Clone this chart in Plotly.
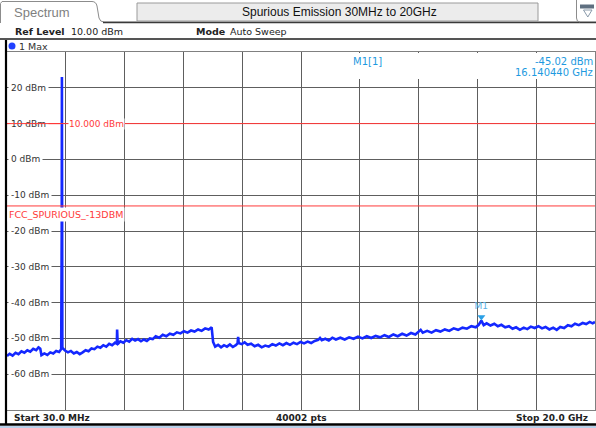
import plotly.graph_objects as go

# ---------------- data ----------------
freq_ghz = [
    0.03, 0.12, 0.22, 0.32, 0.42, 0.52, 0.62, 0.72, 0.82, 0.92, 1.02, 1.1, 1.16, 1.2, 1.3, 1.4, 1.5, 1.6, 1.7, 1.8, 1.87,
    1.88, 1.888, 1.895, 1.902, 1.91,
    2.0, 2.1, 2.2, 2.3, 2.4, 2.5, 2.6, 2.7, 2.8, 2.9, 3.0, 3.1, 3.2, 3.3, 3.4, 3.5, 3.6, 3.7, 3.76,
    3.77, 3.79, 3.88, 3.98, 4.08, 4.18, 4.28, 4.38, 4.48, 4.58, 4.68, 4.78, 4.88, 4.98,
    5.08, 5.2, 5.32, 5.44, 5.56, 5.68, 5.8, 5.92, 6.04, 6.16, 6.28, 6.4, 6.52, 6.64, 6.76, 6.88, 6.98,
    7.03, 7.1, 7.2, 7.3, 7.4, 7.5, 7.6, 7.7, 7.8, 7.86, 7.88, 7.9,
    8.0, 8.1, 8.2, 8.32, 8.44, 8.56, 8.68, 8.8, 8.92, 9.04, 9.16, 9.28, 9.4, 9.52, 9.64, 9.76, 9.88,
    10.0, 10.12, 10.24, 10.36, 10.48, 10.6, 10.66, 10.72, 10.84, 10.96, 11.08, 11.2,
    11.35, 11.5, 11.65, 11.8, 11.95, 12.1, 12.25, 12.4, 12.55, 12.7, 12.85, 13.0, 13.15, 13.3, 13.45, 13.6, 13.75, 13.9,
    14.02, 14.08, 14.15, 14.3, 14.45, 14.6, 14.75, 14.9, 15.05, 15.2, 15.35, 15.5, 15.65, 15.8, 15.95, 16.05,
    16.14, 16.22, 16.32, 16.45, 16.58, 16.7, 16.82, 16.95, 17.08, 17.2, 17.32, 17.45, 17.58, 17.7, 17.82, 17.95,
    18.08, 18.2, 18.32, 18.45, 18.58, 18.7, 18.82, 18.95, 19.08, 19.2, 19.32, 19.45, 19.58, 19.7, 19.82, 19.92, 20.0,
]
level_dbm = [
    -54.9, -54.3, -54.8, -54.0, -54.4, -53.6, -54.0, -53.3, -53.7, -52.9, -53.3, -52.5, -52.9, -54.7, -54.2, -54.6, -53.9, -54.2, -53.5, -53.8, -53.0,
    -40.0, -21.0, 23.0, -30.0, -52.6,
    -53.4, -53.9, -53.5, -54.2, -53.8, -54.4, -53.9, -53.3, -53.6, -52.8, -53.0, -52.3, -52.6, -51.9, -52.3, -51.5, -51.9, -51.2, -51.5,
    -47.5, -51.6, -50.8, -51.2, -50.5, -50.9, -50.1, -50.6, -50.2, -50.8, -50.3, -50.7, -50.0, -50.2,
    -49.4, -49.8, -49.0, -49.4, -48.7, -49.0, -48.3, -48.6, -48.0, -48.4, -47.8, -48.1, -47.5, -47.9, -47.2, -47.5, -46.9,
    -51.0, -52.3, -51.8, -52.5, -51.9, -52.3, -51.7, -52.4, -51.9, -51.4, -49.6, -51.3,
    -51.6, -51.1, -51.8, -51.5, -52.2, -51.8, -52.5, -52.0, -52.3, -51.6, -52.0, -51.4, -51.9, -51.3, -51.8, -51.2, -51.6,
    -51.0, -51.4, -50.9, -51.3, -50.7, -50.4, -49.9, -50.5, -50.1, -50.6, -49.8, -50.3,
    -49.8, -50.3, -49.7, -50.1, -49.5, -50.0, -49.4, -49.9, -49.3, -49.7, -49.1, -49.6, -48.9, -49.4, -48.7, -49.2, -48.5, -48.9,
    -48.2, -47.6, -48.4, -47.9, -48.4, -47.7, -48.1, -47.5, -47.9, -47.2, -47.6, -47.0, -47.3, -46.6, -46.9, -46.2,
    -45.02, -46.3, -45.8, -46.4, -45.9, -46.6, -46.2, -46.9, -46.6, -47.3, -46.9, -47.6, -47.0, -47.4, -46.7, -47.1,
    -46.6, -47.2, -46.8, -47.5, -47.0, -47.6, -46.8, -47.1, -46.3, -46.6, -45.9, -46.3, -45.7, -46.0, -45.4, -45.8, -45.4,
]
assert len(freq_ghz) == len(level_dbm)

f_start_ghz, f_stop_ghz = 0.03, 20.0
y_min_dbm, y_max_dbm = -70, 30
y_tick_vals = [20, 10, 0, -10, -20, -30, -40, -50, -60]
y_tick_labels = ["20 dBm", "10 dBm", "0 dBm", "-10 dBm", "-20 dBm", "-30 dBm", "-40 dBm", "-50 dBm", "-60 dBm"]
ref_line_dbm = 10.0
ref_line_label = "10.000 dBm"
limit_dbm = -13
limit_label = "FCC_SPURIOUS_-13DBM"
marker_name = "M1"
marker_freq_ghz = 16.140440
marker_level_dbm = -45.02
marker_readout = ["M1[1]", "-45.02 dBm", "16.140440 GHz"]
title_text = "Spurious Emission 30MHz to 20GHz"
tab_text = "Spectrum"
info_labels = ["Ref Level", "10.00 dBm", "Mode", "Auto Sweep"]
trace_label = "1 Max"
footer_labels = ["Start 30.0 MHz", "40002 pts", "Stop 20.0 GHz"]

# ---------------- geometry helpers (pixel -> paper) ----------------
W, H = 596, 428
L, R, T, B = 7, 595, 52, 410


def px(x):
    return (x - L) / (R - L)


def py(y):
    return (B - y) / (B - T)


UI = "DejaVu Sans"
ARIAL = "Liberation Sans"
RED = "#ff3a3a"
CYAN = "#1e9ae0"
GRID = "#5e5e5e"

fig = go.Figure()

fig.add_trace(go.Scatter(x=freq_ghz, y=level_dbm, mode="lines",
                         line=dict(color="#1428ff", width=2.6), hoverinfo="skip", showlegend=False))

dbm_per_px = (y_max_dbm - y_min_dbm) / (B - T)
fig.add_trace(go.Scatter(x=[marker_freq_ghz], y=[marker_level_dbm + 3.5 * dbm_per_px],
                         mode="markers+text", marker=dict(symbol="triangle-down", size=7, color="#2aa0e6"),
                         text=[marker_name], textposition="top center",
                         textfont=dict(family=UI, size=9, color="#5ab0e6"),
                         hoverinfo="skip", showlegend=False, cliponaxis=False))

x_grid = [f_start_ghz + i * (f_stop_ghz - f_start_ghz) / 10 for i in range(1, 10)]

shapes = []
annotations = []

# reference lines
shapes.append(dict(type="line", xref="paper", yref="y", x0=0, x1=1, y0=ref_line_dbm, y1=ref_line_dbm,
                   line=dict(color=RED, width=1), layer="above"))
shapes.append(dict(type="line", xref="paper", yref="y", x0=0, x1=1, y0=limit_dbm, y1=limit_dbm,
                   line=dict(color=RED, width=1), layer="above"))

# marker readout box (white, hides grid)
shapes.append(dict(type="rect", xref="paper", yref="paper", x0=px(338), x1=px(594.5), y0=py(79), y1=py(53),
                   line=dict(width=0), fillcolor="white", layer="above"))

# header decor
shapes.append(dict(type="path", xref="paper", yref="paper",
                   path=(f"M {px(0.5)},{py(23)} L {px(0.5)},{py(3.5)} L {px(2)},{py(1.5)} L {px(92)},{py(1.5)} "
                         f"Q {px(96)},{py(1.5)} {px(97)},{py(6)} L {px(99)},{py(18)} Q {px(100)},{py(22)} {px(104)},{py(22)} "
                         f"L {px(596)},{py(22)}"),
                   line=dict(color="#8c8c8c", width=1)))
shapes.append(dict(type="line", xref="paper", yref="paper", x0=px(103), x1=px(596), y0=py(22.5), y1=py(22.5),
                   line=dict(color="#3a3a3a", width=1.5)))
shapes.append(dict(type="rect", xref="paper", yref="paper", x0=px(137), x1=px(538), y0=py(21), y1=py(3),
                   line=dict(color="#9a9a9a", width=1), fillcolor="#ececec"))
shapes.append(dict(type="path", xref="paper", yref="paper",
                   path=f"M {px(576.5)},{py(0)} L {px(576.5)},{py(18)} Q {px(576.5)},{py(22)} {px(580)},{py(22)}",
                   line=dict(color="#8c8c8c", width=1)))
shapes.append(dict(type="rect", xref="paper", yref="paper", x0=px(580), x1=px(594), y0=py(8.5), y1=py(4.5),
                   line=dict(width=0), fillcolor="#5f6f80"))
shapes.append(dict(type="path", xref="paper", yref="paper",
                   path=f"M {px(583.5)},{py(10)} L {px(592)},{py(10)} L {px(587.8)},{py(17)} Z",
                   line=dict(color="#8a9aaa", width=1)))
shapes.append(dict(type="line", xref="paper", yref="paper", x0=px(0), x1=px(596), y0=py(39), y1=py(39),
                   line=dict(color="#555555", width=2)))
shapes.append(dict(type="circle", xref="paper", yref="paper", x0=px(8.5), x1=px(15.5), y0=py(49.5), y1=py(42.5),
                   line=dict(width=0), fillcolor="#2040ff"))

# frame
shapes.append(dict(type="line", xref="paper", yref="paper", x0=px(6), x1=px(6), y0=py(40), y1=py(425),
                   line=dict(color="#000000", width=2.2)))
shapes.append(dict(type="line", xref="paper", yref="paper", x0=px(0), x1=px(596), y0=py(424.5), y1=py(424.5),
                   line=dict(color="#000000", width=2.5)))
shapes.append(dict(type="line", xref="paper", yref="paper", x0=px(0), x1=px(596), y0=py(427), y1=py(427),
                   line=dict(color="#b8d0ea", width=2)))

# y tick labels
for v, t in zip(y_tick_vals, y_tick_labels):
    annotations.append(dict(x=px(7), y=v, xref="paper", yref="y", xanchor="left", yanchor="middle",
                            text=t, showarrow=False, xshift=1, bgcolor="white", borderpad=2,
                            font=dict(family=UI, size=9, color="#333333")))
# red line crossing the "10 dBm" label
annotations.append(dict(x=px(60), y=ref_line_dbm, xref="paper", yref="y", text="", showarrow=True,
                        arrowhead=0, arrowwidth=1, arrowcolor=RED, ax=-54, ay=0, standoff=0, startstandoff=0))

annotations.append(dict(x=px(68), y=ref_line_dbm, xref="paper", yref="y", xanchor="left", yanchor="middle",
                        text=ref_line_label, showarrow=False, bgcolor="white", borderpad=0,
                        font=dict(family=UI, size=9, color=RED)))
annotations.append(dict(x=px(7), y=limit_dbm, xref="paper", yref="y", xanchor="left", yanchor="top",
                        text=limit_label, showarrow=False, bgcolor="white", borderpad=1, yshift=-1,
                        font=dict(family=UI, size=9.5, color=RED)))

# marker readout
annotations.append(dict(x=px(351), y=py(61), xref="paper", yref="paper", xanchor="left", yanchor="middle",
                        text=marker_readout[0], showarrow=False, font=dict(family=UI, size=10, color=CYAN)))
annotations.append(dict(x=px(595), y=py(61), xref="paper", yref="paper", xanchor="right", yanchor="middle",
                        text=marker_readout[1], showarrow=False, font=dict(family=UI, size=10, color=CYAN)))
annotations.append(dict(x=px(595), y=py(73), xref="paper", yref="paper", xanchor="right", yanchor="middle",
                        text=marker_readout[2], showarrow=False, font=dict(family=UI, size=10, color=CYAN)))

# header texts
annotations.append(dict(x=px(12), y=py(12.5), xref="paper", yref="paper", xanchor="left", yanchor="middle",
                        text=tab_text, showarrow=False, font=dict(family=ARIAL, size=13, color="#7f7f7f")))
annotations.append(dict(x=px(339), y=py(12), xref="paper", yref="paper", xanchor="center", yanchor="middle",
                        text=title_text, showarrow=False, font=dict(family=ARIAL, size=12, color="#111111")))
info_x = [13, 69, 194, 228]
for i, (t, xx) in enumerate(zip(info_labels, info_x)):
    annotations.append(dict(x=px(xx), y=py(32), xref="paper", yref="paper", xanchor="left", yanchor="middle",
                            text=f"<b>{t}</b>" if i % 2 == 0 else t, showarrow=False,
                            font=dict(family=UI, size=9.5, color="#222222")))
annotations.append(dict(x=px(17), y=py(46), xref="paper", yref="paper", xanchor="left", yanchor="middle",
                        text=trace_label, showarrow=False, font=dict(family=UI, size=9.5, color="#333333")))

# footer texts
annotations.append(dict(x=px(12), y=py(417.5), xref="paper", yref="paper", xanchor="left", yanchor="middle",
                        text=f"<b>{footer_labels[0]}</b>", showarrow=False, font=dict(family=UI, size=9, color="#222222")))
annotations.append(dict(x=px(302), y=py(417.5), xref="paper", yref="paper", xanchor="center", yanchor="middle",
                        text=f"<b>{footer_labels[1]}</b>", showarrow=False, font=dict(family=UI, size=9, color="#222222")))
annotations.append(dict(x=px(590), y=py(417.5), xref="paper", yref="paper", xanchor="right", yanchor="middle",
                        text=f"<b>{footer_labels[2]}</b>", showarrow=False, font=dict(family=UI, size=9, color="#222222")))

fig.update_layout(
    width=W, height=H,
    margin=dict(l=L, r=W - R, t=T, b=H - B, pad=0),
    paper_bgcolor="white", plot_bgcolor="white",
    showlegend=False,
    shapes=shapes, annotations=annotations,
    xaxis=dict(range=[f_start_ghz, f_stop_ghz], tickvals=x_grid, showticklabels=False, ticks="",
               showgrid=True, gridcolor=GRID, gridwidth=1, zeroline=False,
               showline=True, mirror=True, linecolor="#808080", linewidth=1, fixedrange=True),
    yaxis=dict(range=[y_min_dbm, y_max_dbm], tickvals=y_tick_vals, showticklabels=False, ticks="",
               showgrid=True, gridcolor=GRID, gridwidth=1, zeroline=False,
               showline=True, mirror=True, linecolor="#808080", linewidth=1, fixedrange=True),
)

fig.write_html("out.html", config={"displayModeBar": False},
               post_script="document.body.style.margin='0';document.body.style.overflow='hidden';")
